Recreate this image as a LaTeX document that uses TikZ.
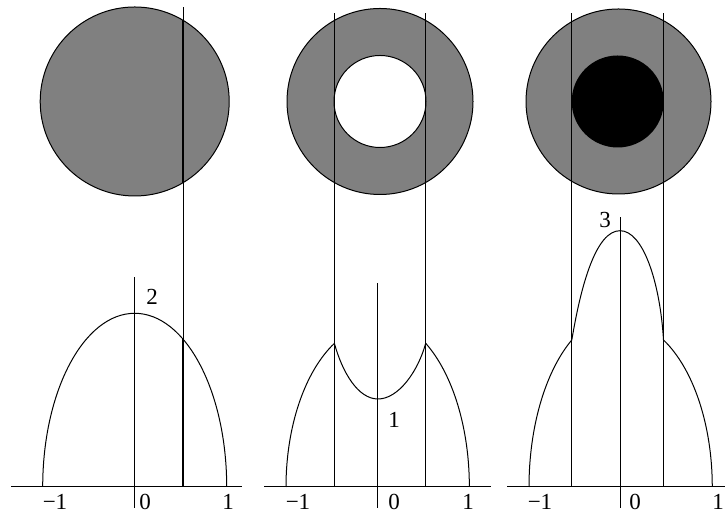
\documentclass[tikz,border=0pt]{standalone}
\usepackage{fontspec}
\setmainfont{Liberation Serif}
\usepackage{tikz}
\definecolor{DiskGray}{RGB}{128,128,128}

\tikzset{
  thinline/.style={black, line width=0.5pt},
  thickline/.style={black, line width=1.3pt},
  disk/.style={fill=DiskGray, draw=black, line width=0.5pt},
  profile/.style={black, line width=0.5pt, line join=round},
  ticklabel/.style={anchor=base, inner sep=0pt, font=\fontsize{11.5}{13}\selectfont},
}

\begin{document}
\begin{tikzpicture}[x=0.5pt, y=0.5pt]
    \path[use as bounding box] (0,0) rectangle (726,517);

    % disks
    \filldraw[disk] (134.7,415.5) circle (94.5);
    \filldraw[disk] (380,415.5) circle (93);
    \filldraw[fill=white, draw=black, line width=0.5pt] (380,415.5) circle (46);
    \filldraw[disk] (618.5,415.5) circle (92.5);
    \fill[black] (617.7,415.5) circle (46);

    % panel 1
    \draw[profile] (42.7,30) arc[start angle=180, end angle=0, x radius=92, y radius=173.7];
    \draw[thinline] (183,30) -- (183,510);
    \draw[thickline] (183,334.3) -- (183,496.7);
    \draw[thickline] (183,30) -- (183,177.8);
    \draw[thinline] (11,30) -- (242,30);
    \draw[thinline] (134.7,9) -- (134.7,240);
    \node[ticklabel] (peakA) at (152,212) {2};
    \node[ticklabel] (leftA) at (55,7) {−1};
    \node[ticklabel] (zeroA) at (145,7) {0};
    \node[ticklabel] (rightA) at (228,7) {1};

    % panel 2
    \draw[profile] (286,30) arc[start angle=180, end angle=118.2, x radius=91.7, y radius=163]
      .. controls +(8,-29) and +(-20,0) .. (378,118)
      .. controls +(20,0) and +(-8,-29) .. (425.7,173.7)
      arc[start angle=58.4, end angle=0, x radius=91.7, y radius=168.6];
    \foreach \sx in {334.3,425.7}
      \draw[thinline] (\sx,30) -- (\sx,504);
    \draw[thinline] (264,30) -- (491,30);
    \draw[thinline] (377.5,9) -- (377.5,234);
    \node[ticklabel] (peakB) at (394,89) {1};
    \node[ticklabel] (leftB) at (298,7) {−1};
    \node[ticklabel] (zeroB) at (394,7) {0};
    \node[ticklabel] (rightB) at (468,7) {1};

    % panel 3
    \draw[profile] (529,30) arc[start angle=180, end angle=122.2, x radius=91.65, y radius=173.8]
      .. controls (581,232) and (596,286.3) .. (620,286.3)
      .. controls (643,286.3) and (660,235) .. (663.5,177)
      arc[start angle=62.1, end angle=0, x radius=91.65, y radius=166.3];
    \foreach \sx in {571.8,663.5}
      \draw[thinline] (\sx,30) -- (\sx,504);
    \draw[thinline] (507,30) -- (725,30);
    \draw[thinline] (620,9) -- (620,300);
    \node[ticklabel] (peakC) at (605,289) {3};
    \node[ticklabel] (leftC) at (540,7) {−1};
    \node[ticklabel] (zeroC) at (635,7) {0};
    \node[ticklabel] (rightC) at (718,7) {1};
\end{tikzpicture}
\end{document}
